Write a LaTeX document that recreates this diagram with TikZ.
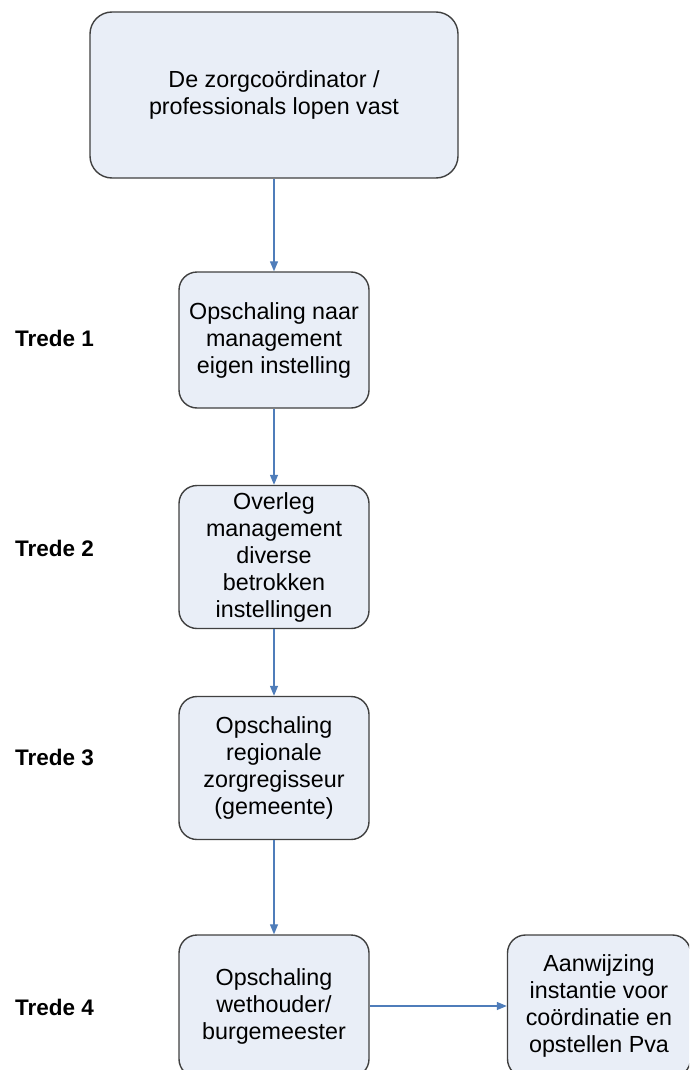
\documentclass[tikz,border=0pt]{standalone}
\usepackage{fontspec}
\setmainfont{Liberation Sans}
\usetikzlibrary{arrows.meta}
\definecolor{boxfill}{HTML}{E9EEF7}
\definecolor{boxline}{HTML}{404040}
\definecolor{pijl}{HTML}{4F7DBA}
\tikzset{
  stap/.style={draw=boxline, fill=boxfill, line width=1.4pt, rounded corners=18pt,
    align=center, inner sep=0pt, font=\fontsize{23.3}{27}\selectfont},
  verbind/.style={draw=pijl, line width=1.3pt, -{Triangle[length=10pt,width=8pt]}},
  trede/.style={anchor=west, inner sep=0pt, font=\fontsize{22.5}{26}\selectfont\bfseries}
}
\begin{document}
\begin{tikzpicture}[x=1pt,y=-1pt]
    \clip (0,0) rectangle (689,1070);
    \useasboundingbox (0,0) rectangle (689,1070);

    % Startpunt
    \node[stap, rounded corners=22pt, minimum width=368pt, minimum height=166pt] (start) at (274,95)
        {De zorgcoördinator /\\professionals lopen vast};
    % Treden
    \node[stap, minimum width=190pt, minimum height=136pt] (t1) at (274,340)
        {Opschaling naar\\management\\eigen instelling};
    \node[stap, minimum width=190pt, minimum height=143pt] (t2) at (274,557)
        {Overleg\\management\\diverse\\betrokken\\instellingen};
    \node[stap, minimum width=190pt, minimum height=143pt] (t3) at (274,768)
        {Opschaling\\regionale\\zorgregisseur\\(gemeente)};
    \node[stap, minimum width=190pt, minimum height=142pt] (t4) at (274,1006)
        {Opschaling\\wethouder/\\burgemeester};
    % Uitkomst
    \node[stap, minimum width=183pt, minimum height=142pt] (actie) at (599,1006)
        {Aanwijzing\\instantie voor\\coördinatie en\\opstellen Pva};

    % Pijlen
    \draw[verbind] (start.south) -- (t1.north);
    \draw[verbind] (t1.south) -- (t2.north);
    \draw[verbind] (t2.south) -- (t3.north);
    \draw[verbind] (t3.south) -- (t4.north);
    \draw[verbind] (t4.east) -- (actie.west);

    % Labels
    \foreach \n/\y in {1/338,2/548,3/757,4/1007}
        \node[trede] (trede\n) at (15,\y) {Trede \n};
\end{tikzpicture}
\end{document}
